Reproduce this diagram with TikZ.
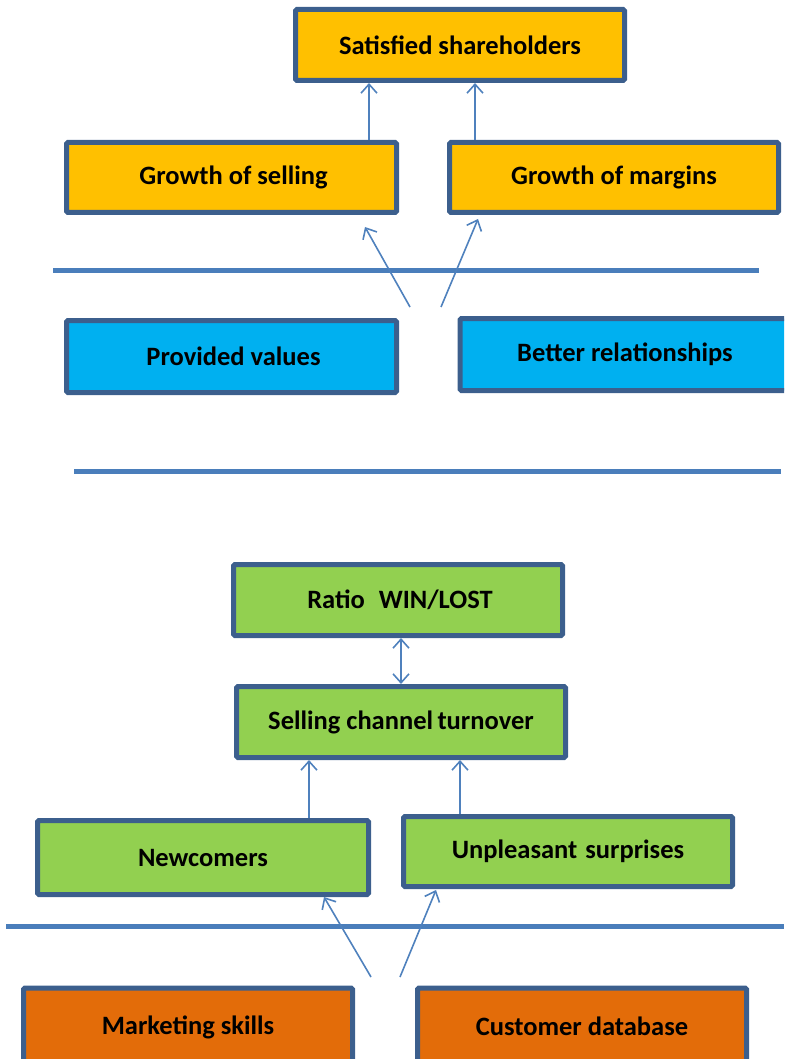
\documentclass[tikz,border=0pt]{standalone}
\usepackage{fontspec}
\setmainfont{Carlito}
\usetikzlibrary{arrows.meta}
\definecolor{bordc}{HTML}{3C5F8D}
\definecolor{linec}{HTML}{4A7EBB}
\definecolor{arrc}{HTML}{4F81BD}
\definecolor{gold}{HTML}{FFC000}
\definecolor{cyanb}{HTML}{00B0F0}
\definecolor{greenb}{HTML}{92D050}
\definecolor{orangeb}{HTML}{E36C09}
\newcommand{\lowr}[2]{\raisebox{-#1pt}{#2}}
\tikzset{
  box/.style={draw=bordc, line width=5pt, rounded corners=1.5pt, inner sep=0pt,
    font=\fontsize{26.5}{30}\selectfont\bfseries},
  sep/.style={draw=linec, line width=5pt},
  arr/.style={draw=arrc, line width=1.6pt, -{Straight Barb[length=9pt,width=16pt,line width=1.6pt]}},
  darr/.style={draw=arrc, line width=1.6pt, {Straight Barb[length=9pt,width=16pt,line width=1.6pt]}-{Straight Barb[length=9pt,width=16pt,line width=1.6pt]}},
}
\begin{document}
\begin{tikzpicture}[x=1pt,y=-1pt]
\useasboundingbox (0,0) rectangle (784,1059);
\clip (0,0) rectangle (784,1059);
% top section
\node[box, fill=gold, minimum width=329pt, minimum height=71pt] (ss) at (460,45) {Satisfied shareholders};
\node[box, fill=gold, minimum width=330pt, minimum height=70pt] (gs) at (231.5,177.5) {\hspace*{4pt}\lowr{3}{Growth of selling}};
\node[box, fill=gold, minimum width=329pt, minimum height=70pt] (gm) at (614,177.5) {\lowr{3}{Growth of margins}};
\draw[sep] (53,270) -- (759,270);
\node[box, fill=cyanb, minimum width=330pt, minimum height=72pt] (pv) at (231.5,356.5) {\hspace*{4pt}\lowr{2}{Provided values}};
\node[box, fill=cyanb, minimum width=330pt, minimum height=72pt] (br) at (625,354.5) {\lowr{3}{Better relationships}};
\draw[sep] (74,471) -- (781,471);
\coordinate (s1) at (410,307);
\coordinate (s2) at (441,307);
\draw[arr] (gs.north -| 369,0) -- (ss.south -| 369,0);
\draw[arr] (gm.north -| 475,0) -- (ss.south -| 475,0);
\draw[arr] (s1) -- (365,227);
\draw[arr] (s2) -- (478,219);
% bottom section
\node[box, fill=greenb, minimum width=329pt, minimum height=71pt] (rw) at (398,600) {\hspace*{4pt}\lowr{2}{Ratio\hspace{14pt}WIN/LOST}};
\node[box, fill=greenb, minimum width=329pt, minimum height=71pt] (sc) at (401,722) {\lowr{1}{Selling channel\,turnover}};
\node[box, fill=greenb, minimum width=331pt, minimum height=74pt] (nc) at (203,857.5) {Newcomers};
\node[box, fill=greenb, minimum width=329pt, minimum height=70pt] (us) at (568,851.5) {\lowr{3}{Unpleasant\hspace{8pt}surprises}};
\draw[sep] (6,926) -- (784,926);
\node[box, fill=orangeb, minimum width=329pt, minimum height=78pt] (ms) at (188,1027) {Marketing skills};
\node[box, fill=orangeb, minimum width=329pt, minimum height=78pt] (cd) at (582,1027) {\raisebox{2pt}{Customer database}};
\draw[darr] (rw.south -| 401,0) -- (sc.north -| 401,0);
\draw[arr] (nc.north -| 309,0) -- (sc.south -| 309,0);
\draw[arr] (us.north -| 460,0) -- (sc.south -| 460,0);
\coordinate (s3) at (371,977);
\coordinate (s4) at (400,977);
\draw[arr] (s3) -- (324,897);
\draw[arr] (s4) -- (436,890);
\end{tikzpicture}
\end{document}
